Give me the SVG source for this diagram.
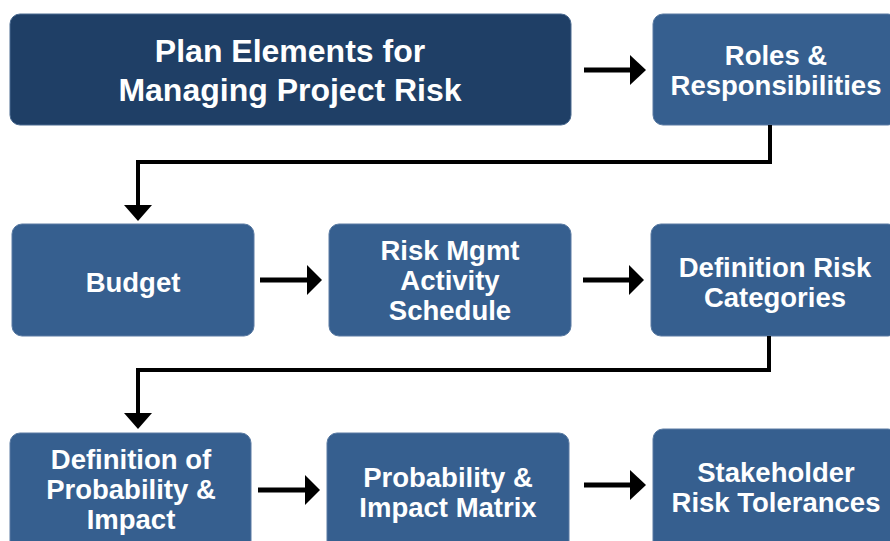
<svg xmlns="http://www.w3.org/2000/svg" width="890" height="541" viewBox="0 0 890 541">
<defs>
<style>
.box{fill:#365f8f;stroke:#5a7ba3;stroke-width:1}
.title{fill:#1f3f66;stroke:#4a6a90;stroke-width:1}
text{font-family:"Liberation Sans",Arial,sans-serif;font-weight:700;fill:#ffffff;text-anchor:middle}
.t{font-size:32px}
.l{font-size:27.5px}
.arrow{stroke:#000;stroke-width:5;fill:none}
.conn{stroke:#000;stroke-width:4;fill:none}
.head{fill:#000}
</style>
</defs>
<rect width="890" height="541" fill="#ffffff"/>
<g id="n-title"><rect class="title" x="10" y="14" width="561" height="111" rx="10"/>
<text class="t" x="290" y="62">Plan Elements for</text><text class="t" x="290" y="101">Managing Project Risk</text></g>
<g id="n-roles"><rect class="box" x="653" y="14" width="245" height="111" rx="10"/>
<text class="l" x="776" y="65">Roles &amp;</text><text class="l" x="776" y="95">Responsibilities</text></g>
<g id="n-budget"><rect class="box" x="12" y="224" width="242" height="112" rx="10"/>
<text class="l" x="133" y="292">Budget</text></g>
<g id="n-schedule"><rect class="box" x="329" y="224" width="242" height="112" rx="10"/>
<text class="l" x="450" y="260">Risk Mgmt</text><text class="l" x="450" y="290">Activity</text><text class="l" x="450" y="320">Schedule</text></g>
<g id="n-categories"><rect class="box" x="651" y="224" width="247" height="112" rx="10"/>
<text class="l" x="775" y="277">Definition Risk</text><text class="l" x="775" y="307">Categories</text></g>
<g id="n-defprob"><rect class="box" x="10" y="433" width="241" height="118" rx="10"/>
<text class="l" x="131" y="469">Definition of</text><text class="l" x="131" y="499">Probability &amp;</text><text class="l" x="131" y="529">Impact</text></g>
<g id="n-matrix"><rect class="box" x="327" y="433" width="242" height="118" rx="10"/>
<text class="l" x="448" y="487">Probability &amp;</text><text class="l" x="448" y="517">Impact Matrix</text></g>
<g id="n-tolerances"><rect class="box" x="653" y="429" width="245" height="122" rx="10"/>
<text class="l" x="776" y="482">Stakeholder</text><text class="l" x="776" y="512">Risk Tolerances</text></g>
<g id="connectors">
<line class="arrow" x1="584" y1="70" x2="631" y2="70"/><polygon class="head" points="630,55 646,70 630,85"/>
<path class="conn" d="M770,125 V162 H138 V206"/><polygon class="head" points="124,205 152,205 138,221"/>
<line class="arrow" x1="260" y1="280" x2="308" y2="280"/><polygon class="head" points="307,265 322,280 307,295"/>
<line class="arrow" x1="583" y1="280" x2="630" y2="280"/><polygon class="head" points="629,265 644,280 629,295"/>
<path class="conn" d="M769,336 V370 H138 V414"/><polygon class="head" points="124,413 152,413 138,429"/>
<line class="arrow" x1="258" y1="490" x2="306" y2="490"/><polygon class="head" points="305,475 320,490 305,505"/>
<line class="arrow" x1="584" y1="485" x2="631" y2="485"/><polygon class="head" points="630,470 646,485 630,500"/>
</g>
</svg>
